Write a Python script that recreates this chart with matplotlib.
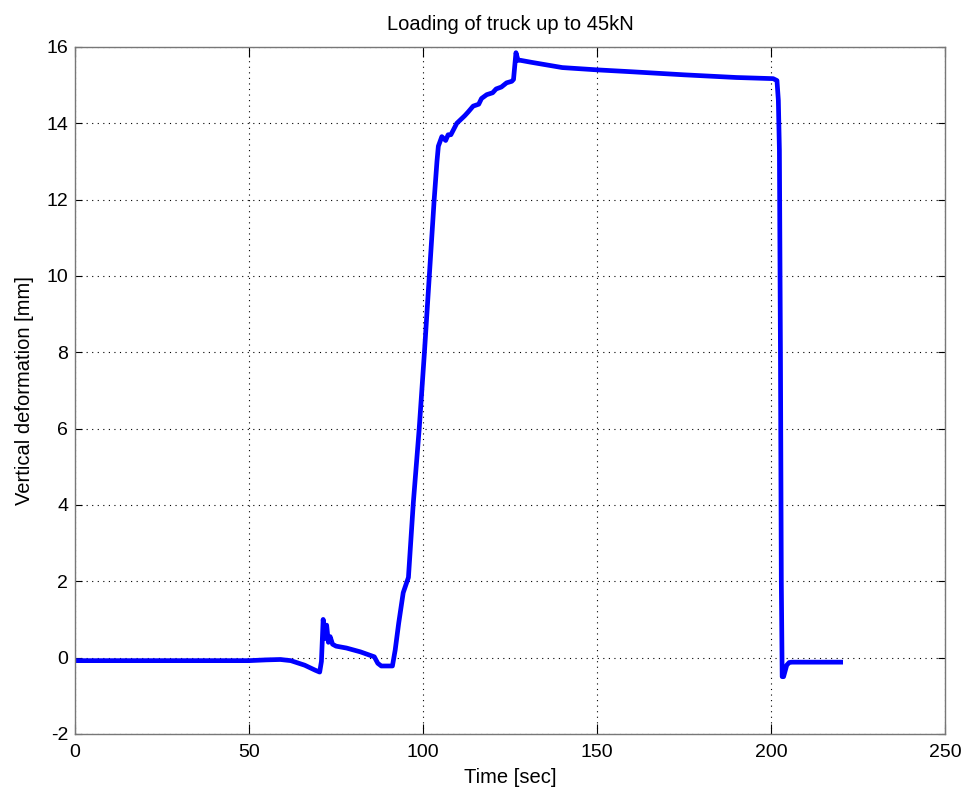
import matplotlib.pyplot as plt
import numpy as np

# vertical deformation of the truck during loading / unloading
time_sec = [0, 50, 55, 59, 62, 66, 69, 70.3, 70.8, 71.3, 71.8, 72.3, 72.8, 73.3,
            74, 75, 78, 82, 86, 87, 88, 91.2, 92, 93, 94.3, 95.8, 97.2, 98.9,
            100.4, 101.8, 103.2, 104, 104.4, 105.4, 106.5, 107.2, 108, 109.7, 112,
            113, 114.4, 116, 116.8, 118.3, 120, 121, 122.5, 124, 125.5, 126, 126.7,
            127.3, 128, 131, 135.5, 140, 150, 160, 175, 190, 200.6, 201.7, 202.1,
            202.4, 202.7, 202.95, 203.2, 203.6, 204.5, 205.2, 206, 220]
deform_mm = [-0.08, -0.08, -0.06, -0.05, -0.08, -0.2, -0.33, -0.38, -0.1, 1.0,
             0.5, 0.85, 0.4, 0.55, 0.35, 0.3, 0.25, 0.15, 0.02, -0.15, -0.22, -0.22,
             0.2, 0.9, 1.7, 2.1, 4.05, 6.0, 8.0, 10.0, 12.0, 13.0, 13.4, 13.65,
             13.55, 13.7, 13.7, 14.0, 14.2, 14.3, 14.45, 14.5, 14.65, 14.75, 14.8,
             14.9, 14.95, 15.06, 15.1, 15.15, 15.85, 15.65, 15.65, 15.6, 15.53,
             15.46, 15.4, 15.35, 15.27, 15.2, 15.17, 15.12, 14.6, 13.3, 8.0, 2.0,
             -0.5, -0.5, -0.2, -0.13, -0.12, -0.12]

x_ticks = np.arange(0, 251, 50)
y_ticks = np.arange(-2, 17, 2)

plt.rcParams['font.family'] = ['Liberation Sans', 'DejaVu Sans']
plt.rcParams['font.size'] = 14
plt.rcParams['axes.unicode_minus'] = False

fig = plt.figure(figsize=(9.67, 7.96), dpi=100)
ax = fig.add_axes([0.0776, 0.078, 0.8997, 0.863])

ax.plot(time_sec, deform_mm, color='#0000ff', linewidth=3.4)

ax.set_xlim(0, 250)
ax.set_ylim(-2, 16)
ax.set_xticks(x_ticks)
ax.set_yticks(y_ticks)
ax.grid(True, color='black', linestyle=(0, (1, 4)), linewidth=0.8)
ax.tick_params(axis='x', direction='in', top=True, length=7, width=0.8,
               pad=7, labelsize=14)
ax.tick_params(axis='y', direction='in', right=True, length=5, width=0.8,
               pad=5, labelsize=14)
for s in ax.spines.values():
    s.set_color('#777777')
    s.set_linewidth(1.0)

ax.set_title('Loading of truck up to 45kN', fontsize=14.5, pad=12)
ax.set_xlabel('Time [sec]', fontsize=14.5, labelpad=5)
ax.set_ylabel('Vertical deformation [mm]', fontsize=14.5, labelpad=9)

fig.savefig('out.png', dpi=100)
